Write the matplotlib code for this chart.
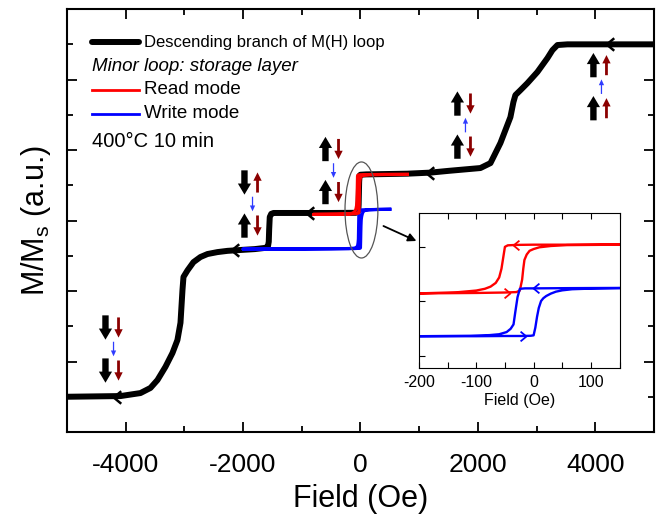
import matplotlib
matplotlib.use('Agg')
import matplotlib.pyplot as plt
from matplotlib.patches import Ellipse
from matplotlib.transforms import offset_copy
from matplotlib.ticker import MultipleLocator

plt.rcParams['font.family'] = ['Liberation Sans', 'DejaVu Sans']
plt.rcParams['axes.unicode_minus'] = False

# ---------------- data ----------------
# descending branch of the major M(H) loop (Oe, M/Ms)
black_H = [5000, 3600, 3526, 3356, 3271, 3186, 3015, 2845, 2726, 2640, 2606, 2555,
           2385, 2215, 2044, 1500, 1190, 800, 100, 0, -15, -22, -27, -31, -36, -45,
           -80, -500, -1000, -1480, -1520, -1545, -1555, -1562, -1575, -1620, -1800,
           -2044, -2266, -2436, -2606, -2726, -2845, -2947, -3015, -3032, -3066,
           -3118, -3203, -3322, -3458, -3578, -3748, -4088, -5000]
black_M = [1.0, 1.0, 1.0, 0.996, 0.967, 0.922, 0.843, 0.78, 0.74, 0.712, 0.672, 0.587,
           0.44, 0.326, 0.298, 0.282, 0.272, 0.266, 0.262, 0.26, 0.255, 0.22, 0.15, 0.09,
           0.06, 0.048, 0.044, 0.043, 0.043, 0.043, 0.038, 0.02, -0.05, -0.12, -0.145,
           -0.155, -0.162, -0.167, -0.172, -0.179, -0.19, -0.207, -0.236, -0.283, -0.32,
           -0.394, -0.58, -0.678, -0.752, -0.83, -0.905, -0.95, -0.979, -0.996, -1.0]

# minor loop, read mode (descending then ascending)
read_H = [800, 400, 150, 50, 0, -30, -45, -50, -53, -56, -60, -66, -75, -85, -100,
          -134, -200, -400, -800,
          -800, -400, -200, -100, -50, -30, -24, -20, -18, -16, -12, -7, 0, 10, 30,
          58, 150, 400, 800]
read_M = [0.262, 0.262, 0.261, 0.26, 0.26, 0.259, 0.257, 0.25, 0.2, 0.15, 0.11, 0.085,
          0.068, 0.058, 0.05, 0.042, 0.037, 0.036, 0.035,
          0.035, 0.036, 0.037, 0.039, 0.041, 0.043, 0.05, 0.1, 0.15, 0.19, 0.215, 0.232,
          0.24, 0.248, 0.254, 0.258, 0.26, 0.261, 0.262]

# minor loop, write mode (descending then ascending)
write_H = [500, 300, 150, 60, 0, -15, -24, -28, -32, -35, -40, -47, -60, -77, -110,
           -200, -500, -1000, -2000,
           -2000, -1000, -500, -200, -100, -50, -20, -5, 0, 3, 6, 9, 13, 17, 22, 30, 39,
           50, 67, 100, 150, 300, 500]
write_M = [0.064, 0.063, 0.062, 0.061, 0.06, 0.06, 0.058, 0.02, -0.05, -0.105, -0.125,
           -0.14, -0.15, -0.154, -0.157, -0.159, -0.16, -0.161, -0.162,
           -0.162, -0.161, -0.16, -0.159, -0.159, -0.158, -0.158, -0.157, -0.155, -0.12,
           -0.07, -0.03, 0.002, 0.015, 0.025, 0.036, 0.045, 0.051, 0.056, 0.059, 0.061,
           0.063, 0.064]

# direction arrows along the curves
black_arrow_H = [4259, 1190, -852, -2130, -4140]
black_arrow_M = [1.0, 0.272, 0.043, -0.167, -1.0]
read_arrow_H = [-30, -47]
read_arrow_M = [0.26, 0.037]
read_arrow_dir = ['left', 'right']
write_arrow_H = [5, -19]
write_arrow_M = [0.061, -0.159]
write_arrow_dir = ['left', 'right']

# magnetic configuration sketches: anchor (H, M) and arrow directions
# (top ref-layer, top storage, transition, bottom ref-layer, bottom storage)
spin_H = [3969, 1652, -596, -1976, -4344]
spin_M = [0.882, 0.664, 0.406, 0.216, -0.607]
spin_dirs = ['uuuuu', 'uduud', 'uddud', 'dudud', 'ddddd']

main_xticks = [-4000, -2000, 0, 2000, 4000]
inset_xticks = [-200, -100, 0, 100]

RED = '#ff0000'
BLUE = '#0000ff'
DARKRED = '#8b0000'
LBLUE = '#2f3cff'

# ---------------- figure ----------------
fig = plt.figure(figsize=(6.67, 5.17), dpi=100)
ax = fig.add_axes([0.1004, 0.1644, 0.880, 0.818])

ax.plot(black_H, black_M, color='k', lw=4.3, solid_capstyle='round',
        solid_joinstyle='round', zorder=2)
ax.plot(write_H, write_M, color=BLUE, lw=2.3, zorder=3)
ax.plot(read_H, read_M, color=RED, lw=2.3, zorder=4)

left_chev = [(0.6, 1), (-0.6, 0), (0.6, -1)]
right_chev = [(-0.6, 1), (0.6, 0), (-0.6, -1)]
ax.plot(black_arrow_H, black_arrow_M, ls='none', marker=left_chev, ms=9,
        mfc='none', mec='k', mew=1.8, zorder=5)

ax.set_xlim(-5000, 5000)
ax.set_ylim(-1.2, 1.2)
ax.set_xticks(main_xticks)
ax.xaxis.set_minor_locator(MultipleLocator(1000))
ax.yaxis.set_major_locator(MultipleLocator(0.4))
ax.yaxis.set_minor_locator(MultipleLocator(0.2))
ax.tick_params(which='both', direction='in', top=True, right=True,
               labelleft=False, width=1.3)
ax.tick_params(which='major', length=7, labelsize=19, pad=15)
ax.tick_params(which='minor', length=4)
for s in ax.spines.values():
    s.set_linewidth(1.5)
ax.set_xlabel('Field (Oe)', fontsize=22, labelpad=5)
ax.set_ylabel(r'M/M$_\mathregular{s}$ (a.u.)', fontsize=22, labelpad=10)

# legend (manual)
ax.plot([0.0426, 0.122], [0.922, 0.922], transform=ax.transAxes, color='k', lw=4.3,
        solid_capstyle='round')
ax.text(0.131, 0.922, 'Descending branch of M(H) loop', transform=ax.transAxes,
        va='center', fontsize=12)
ax.text(0.0426, 0.865, 'Minor loop: storage layer', transform=ax.transAxes,
        va='center', fontsize=13.5, style='italic')
ax.plot([0.0426, 0.122], [0.809, 0.809], transform=ax.transAxes, color=RED, lw=2)
ax.text(0.131, 0.809, 'Read mode', transform=ax.transAxes, va='center', fontsize=13.5)
ax.plot([0.0426, 0.122], [0.752, 0.752], transform=ax.transAxes, color=BLUE, lw=2)
ax.text(0.131, 0.752, 'Write mode', transform=ax.transAxes, va='center', fontsize=13.5)
ax.text(0.0426, 0.686, '400°C 10 min', transform=ax.transAxes, va='center',
        fontsize=14.5)

# ellipse and pointer to inset
ax.add_patch(Ellipse((17, 0.06), 560, 0.545, fill=False, ec='#555555', lw=0.9,
                     zorder=6))
ax.annotate('', xy=(954, -0.116), xytext=(392, -0.031),
            arrowprops=dict(arrowstyle='-|>', color='k', lw=1.3, mutation_scale=12,
                            shrinkA=0, shrinkB=0))


def spin(H, M, dx, yc, length, up, color, tw, hw, hl):
    half = length / 2.0
    y_head = yc + half if up else yc - half
    y_tail = yc - half if up else yc + half
    ax.annotate('', xy=(H, M),
                xycoords=offset_copy(ax.transData, fig=fig, x=dx, y=y_head,
                                     units='points'),
                xytext=(H, M),
                textcoords=offset_copy(ax.transData, fig=fig, x=dx, y=y_tail,
                                       units='points'),
                arrowprops=dict(arrowstyle=f'simple,head_length={hl},head_width={hw},'
                                           f'tail_width={tw}',
                                mutation_scale=1, color=color, lw=0,
                                shrinkA=0, shrinkB=0),
                zorder=7)


for H, M, d in zip(spin_H, spin_M, spin_dirs):
    spin(H, M, 0, 0, 17.5, d[0] == 'u', 'k', 4.6, 9.5, 8.0)
    spin(H, M, 9.4, 0, 14.5, d[1] == 'u', DARKRED, 2.0, 6.0, 6.0)
    spin(H, M, 5.8, -15.5, 10.5, d[2] == 'u', LBLUE, 0.9, 3.8, 4.2)
    spin(H, M, 0, -31, 17.5, d[3] == 'u', 'k', 4.6, 9.5, 8.0)
    spin(H, M, 9.4, -31, 14.5, d[4] == 'u', DARKRED, 2.0, 6.0, 6.0)

# ---------------- inset ----------------
axin = fig.add_axes([0.628, 0.288, 0.301, 0.300])
axin.plot(read_H, read_M, color=RED, lw=1.7)
axin.plot(write_H, write_M, color=BLUE, lw=1.7)
for H, M, d in zip(read_arrow_H, read_arrow_M, read_arrow_dir):
    axin.plot([H], [M], ls='none', marker=left_chev if d == 'left' else right_chev,
              ms=7, mfc='none', mec=RED, mew=1.3)
for H, M, d in zip(write_arrow_H, write_arrow_M, write_arrow_dir):
    axin.plot([H], [M], ls='none', marker=left_chev if d == 'left' else right_chev,
              ms=7, mfc='none', mec=BLUE, mew=1.3)
axin.set_xlim(-200, 150)
axin.set_ylim(-0.305, 0.405)
axin.set_xticks(inset_xticks)
axin.xaxis.set_minor_locator(MultipleLocator(50))
axin.yaxis.set_major_locator(MultipleLocator(0.25))
axin.tick_params(which='both', direction='in', top=True, right=False,
                 labelleft=False, width=0.8, labelsize=11.5, pad=5)
axin.tick_params(which='major', length=4)
axin.tick_params(which='minor', length=4)
for s in axin.spines.values():
    s.set_linewidth(0.8)
axin.set_xlabel('Field (Oe)', fontsize=11.5, labelpad=2)

fig.savefig('out.png', dpi=100)
